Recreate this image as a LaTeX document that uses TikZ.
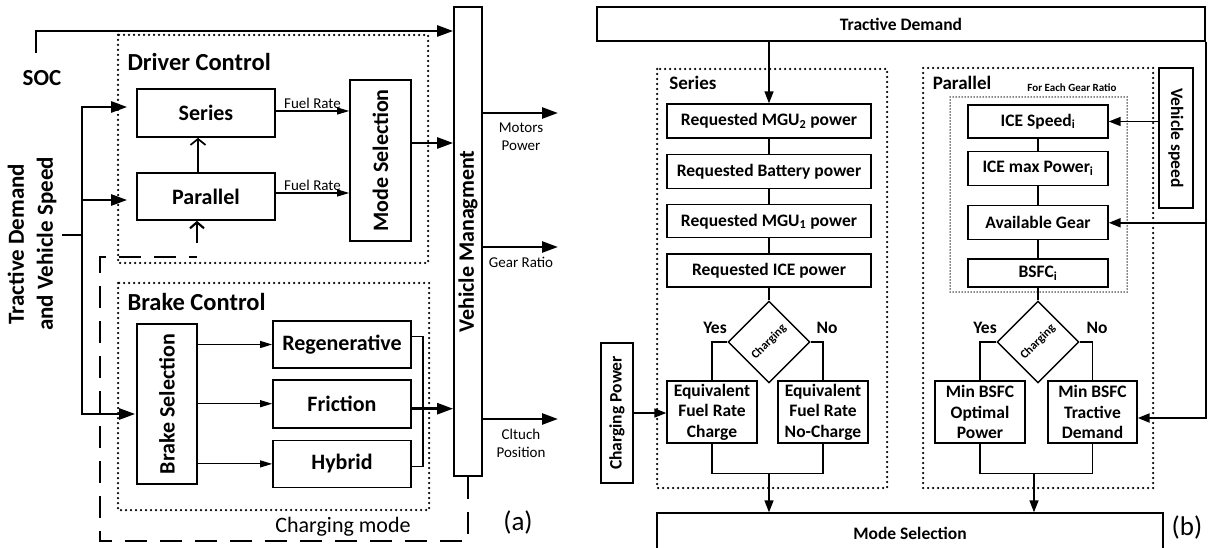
\documentclass[tikz,border=0pt]{standalone}
\usepackage{fontspec}
\setmainfont{Carlito}
\usetikzlibrary{positioning, arrows.meta, shapes.geometric}

\tikzset{
  blk/.style={draw, line width=1.7pt, inner sep=0pt, align=center, font=\bfseries\fontsize{22}{26}\selectfont},
  rblk/.style={draw, line width=1.4pt, inner sep=0pt, align=center, font=\bfseries\fontsize{17.5}{20.5}\selectfont},
  dia/.style={draw, diamond, line width=1.4pt, minimum width=82pt, minimum height=82pt, inner sep=0pt, font=\bfseries\fontsize{12}{14}\selectfont},
  dotbox/.style={line width=2.5pt, line cap=round, dash pattern=on 0pt off 5pt},
  finedot/.style={line width=1.5pt, line cap=round, dash pattern=on 0pt off 3pt},
  dsh/.style={line width=2.5pt, dash pattern=on 22pt off 13pt},
  grp/.style={font=\bfseries\fontsize{24.5}{28}\selectfont},
  rgrp/.style={font=\bfseries\fontsize{19}{22}\selectfont},
  yn/.style={font=\bfseries\fontsize{17.5}{20}\selectfont},
  sig/.style={font=\fontsize{15}{18}\selectfont, align=center},
  thk/.style={line width=2.5pt, -{Triangle[length=16pt,width=11pt]}},
  thn/.style={line width=1.1pt, -{Triangle[length=12pt,width=7pt]}},
  rarr/.style={line width=1.6pt, -{Triangle[length=12pt,width=9pt]}},
  rln/.style={line width=1.4pt},
}

\begin{document}
\begin{tikzpicture}[x=1pt, y=-1pt]
\useasboundingbox (0,0) rectangle (1224,548);

% (a) left panel
\draw[dotbox] (118,35) rectangle (428,263);
\draw[dotbox] (118,283) rectangle (429,510);
\node[grp, anchor=west] (drvlbl) at (124,62) {Driver Control};
\node[grp, anchor=west] (brklbl) at (124,302) {Brake Control};

\node[blk, minimum width=138pt, minimum height=48pt] (series) at (206,113) {Series};
\node[blk, minimum width=138pt, minimum height=47pt] (parallel) at (206,196.5) {Parallel};
\node[blk, minimum width=61pt, minimum height=161pt] (modesel) at (380.5,160.5) {\rotatebox{90}{Mode Selection}};
\node[blk, minimum width=28pt, minimum height=469pt] (vm) at (468,241.5) {\rotatebox{90}{Vehicle Managment}};

\node[blk, minimum width=60pt, minimum height=160pt] (brksel) at (167,404) {\rotatebox{90}{Brake Selection}};
\node[blk, minimum width=138pt, minimum height=47pt] (regen) at (342,344.5) {Regenerative};
\node[blk, minimum width=138pt, minimum height=48pt, below=10pt of regen] (fric) {Friction};
\node[blk, minimum width=138pt, minimum height=47pt, below=11pt of fric] (hybrid) {Hybrid};

\node[font=\bfseries\fontsize{23}{27}\selectfont] (soclbl) at (42,78) {SOC};
\node[font=\bfseries\fontsize{23}{29}\selectfont, align=center, rotate=90] (tdvs) at (32,244) {Tractive Demand\\and Vehicle Speed};

% inputs
\coordinate (socin) at (36,53);
\draw[thk] (socin) |- (vm.west |- 0,31);
\coordinate (tdin) at (62,235);
\coordinate (tdj) at (82,235);
\draw[line width=2.5pt] (tdin) -- (tdj);
\draw[thk, shorten >=9pt] (tdj) |- ([yshift=6pt]series.west);
\draw[thk, shorten >=9pt] (tdj) |- ([yshift=-3.5pt]parallel.west);
\draw[thk, shorten >=1pt] (tdj) |- ([yshift=-10pt]brksel.west);

% driver control
\draw[thn] ([yshift=2pt]series.east) -- (modesel.west |- 0,111) node[midway, above, sig, inner sep=2pt] {Fuel Rate};
\draw[thn] ([yshift=3.5pt]parallel.east) -- (modesel.west |- 0,193) node[midway, above, sig, inner sep=2pt] {Fuel Rate};
\draw[line width=1.7pt, -{Straight Barb[length=6pt,width=15pt]}] ([xshift=-8pt]parallel.north) -- ([xshift=-8pt]series.south);
\draw[thk] ([yshift=17.5pt]modesel.east) coordinate (mq) -- (vm.west |- mq);

% brake control
\foreach \b in {regen, fric, hybrid}
  \draw[thn] (brksel.east |- \b.west) -- (\b.west);
\draw[line width=1.7pt] ([yshift=8pt]regen.east) -- ++(11,0) |- ([yshift=-2.5pt]hybrid.east);
\draw[thk] ([yshift=-5pt]fric.east) coordinate (fq) -- (vm.west |- fq);

% charging mode
\draw[dsh] (vm.south) -- (468,541) -| (100,257) -- (197,257);
\draw[line width=2.2pt, -{Straight Barb[length=6pt,width=14pt]}] (197,243) -- ([xshift=-9pt]parallel.south);
\node[font=\fontsize{22}{26}\selectfont] (chglbl) at (343,527) {Charging mode};

% outputs
\coordinate (mpo) at (558,113);
\coordinate (gro) at (558,247);
\coordinate (clo) at (558,419);
\draw[thk] (vm.east |- mpo) -- (mpo);
\draw[thk] (vm.east |- gro) -- (gro);
\draw[thk] (vm.east |- clo) -- (clo);
\node[sig] (mplbl) at (521,137) {Motors\\Power};
\node[sig] (grlbl) at (521,262) {Gear Ratio};
\node[sig] (cllbl) at (521,443) {Cltuch\\Position};
\node[font=\fontsize{27}{30}\selectfont] (alab) at (518,522) {(a)};

% (b) right panel
\node[rblk, minimum width=608pt, minimum height=34pt] (tdbox) at (901,24) {Tractive Demand};
\node[rblk, minimum width=506pt, minimum height=40pt] (modebox) at (910,533) {Mode Selection};

% series
\draw[dotbox] (657,69) rectangle (887,488);
\node[rgrp] (serlbl) at (693,83) {Series};
\node[rblk, minimum width=204pt, minimum height=34pt] (mgu2) at (769,121) {Requested MGU\textsubscript{2} power};
\node[rblk, minimum width=204pt, minimum height=34pt, below=15pt of mgu2] (batt) {Requested Battery power};
\node[rblk, minimum width=204pt, minimum height=33pt, below=15pt of batt] (mgu1) {Requested MGU\textsubscript{1} power};
\node[rblk, minimum width=204pt, minimum height=33pt, below=15pt of mgu1] (icep) {Requested ICE power};
\draw[rarr] (mgu2.north |- tdbox.south) -- (mgu2.north);
\foreach \a/\b in {mgu2/batt, batt/mgu1, mgu1/icep}
  \draw[rln] (\a) -- (\b);
\node[dia] (chg1) at (769,342) {\rotatebox{45}{Charging}};
\draw[rln] (icep.south) -- (chg1.north);
\node[yn] (yes1) at (715,328) {Yes};
\node[yn] (no1) at (827,328) {No};
\node[rblk, minimum width=90pt, minimum height=62pt] (eqc) at (712,412) {Equivalent\\Fuel Rate\\Charge};
\node[rblk, minimum width=90pt, minimum height=62pt] (eqn) at (823,412) {Equivalent\\Fuel Rate\\No-Charge};
\draw[rln] (chg1.west) -| (eqc.north);
\draw[rln] (chg1.east) -| (eqn.north);
\draw[rln] (eqc.south) -- ++(0,30) -| (eqn.south);
\coordinate (sjn) at (769,473);
\draw[rarr] (sjn) -- (sjn |- modebox.north);
\node[rblk, minimum width=32pt, minimum height=140pt] (chgp) at (617,413) {\rotatebox{90}{Charging Power}};
\draw[rarr] (chgp.east) -- (eqc.west |- chgp.east);

% parallel
\draw[dotbox] (923,68) rectangle (1153,488);
\node[rgrp] (parlbl) at (962,83) {Parallel};
\node[font=\bfseries\fontsize{11}{13}\selectfont] (gearlbl) at (1072,88) {For Each Gear Ratio};
\draw[finedot] (950,97) rectangle (1127,292);
\node[rblk, minimum width=140pt, minimum height=33pt] (ices) at (1038,121.5) {ICE Speed\textsubscript{i}};
\node[rblk, minimum width=140pt, minimum height=34pt, below=12pt of ices] (icemax) {ICE max Power\textsubscript{i}};
\node[rblk, minimum width=140pt, minimum height=34pt, below=19pt of icemax] (avg) {Available Gear};
\node[rblk, minimum width=140pt, minimum height=28pt, below=18pt of avg] (bsfc) {BSFC\textsubscript{i}};
\foreach \a/\b in {ices/icemax, icemax/avg, avg/bsfc}
  \draw[rln] (\a) -- (\b);
\node[dia] (chg2) at (1038,342) {\rotatebox{45}{Charging}};
\draw[rln] (bsfc.south) -- (chg2.north);
\node[yn] (yes2) at (985,328) {Yes};
\node[yn] (no2) at (1097,328) {No};
\node[rblk, minimum width=90pt, minimum height=62pt] (mbo) at (980,412) {Min BSFC\\Optimal\\Power};
\node[rblk, minimum width=89pt, minimum height=62pt] (mbt) at (1092.5,412) {Min BSFC\\Tractive\\Demand};
\draw[rln] (chg2.west) -| (mbo.north);
\draw[rln] (chg2.east) -| (mbt.north);
\draw[rln] (mbo.south) -- ++(0,30) -| (mbt.south);
\coordinate (pjn) at (1034,473);
\draw[rarr] (pjn) -- (pjn |- modebox.north);
\node[rblk, minimum width=34pt, minimum height=140pt] (vspd) at (1176,138) {\rotatebox{-90}{Vehicle speed}};
\draw[rarr] (vspd.west |- ices.east) -- (ices.east);
\draw[rarr, line width=2.2pt] (tdbox.south east) |- ([yshift=-6pt]mbt.east);
\draw[rarr, line width=2.2pt] (tdbox.south east |- avg.east) -- (avg.east);
\node[font=\fontsize{27}{30}\selectfont] (blab) at (1187,527) {(b)};
\end{tikzpicture}
\end{document}
